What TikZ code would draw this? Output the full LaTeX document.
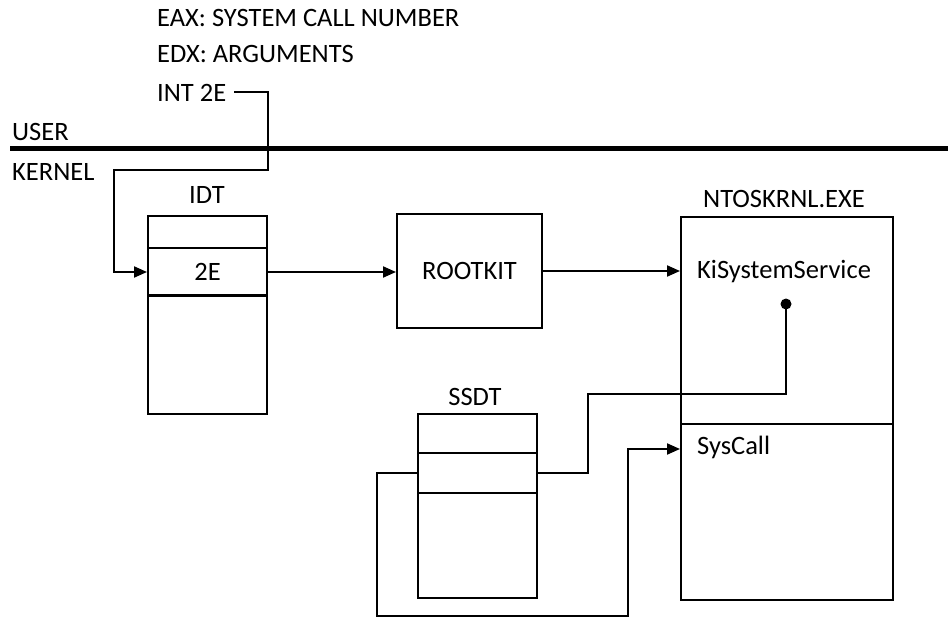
\documentclass[tikz,border=0pt]{standalone}
\usepackage{fontspec}
\setmainfont{Carlito}
\usetikzlibrary{arrows.meta}
\begin{document}
\begin{tikzpicture}[x=1pt,y=-1pt,
  every node/.style={font=\fontsize{26.5}{30}\selectfont, inner sep=0pt},
  box/.style={draw, line width=2pt, rectangle, anchor=north west},
  txt/.style={anchor=west},
  conn/.style={line width=2pt},
  arr/.style={line width=2pt, -{Triangle[length=13pt,width=11pt]}}]
\useasboundingbox (0,0) rectangle (948,626);
% header texts
\node[txt] (eax) at (157,18) {EAX: SYSTEM CALL NUMBER};
\node[txt] (edx) at (157,54) {EDX: ARGUMENTS};
\node[txt] (int) at (157,93) {INT 2E};
\node[txt] (user) at (12,132) {USER};
\node[txt] (kernel) at (12,172) {KERNEL};
\coordinate (divL) at (10,148);
\coordinate (divR) at (948,148);
\draw[line width=5pt] (divL) -- (divR);
% IDT
\node (idtlab) at (207,195) {IDT};
\node[box, minimum width=119pt, minimum height=32pt] (idt1) at (147,215) {};
\node[box, minimum width=119pt, minimum height=48pt] (idt2e) at (147,247) {2E};
\node[box, minimum width=119pt, minimum height=118pt] (idt3) at (147,295) {};
\draw[line width=3pt] (idt3.north west) -- (idt3.north east);
% ROOTKIT
\node[box, minimum width=145pt, minimum height=114pt] (rootkit) at (396,213) {ROOTKIT};
% NTOSKRNL
\node (ntoslab) at (784,199) {NTOSKRNL.EXE};
\node[box, minimum width=212pt, minimum height=207pt] (ntostop) at (680,216) {};
\node[box, minimum width=212pt, minimum height=176pt] (ntosbot) at (680,423) {};
\node[txt] (kiss) at (697,272) {KiSystemService};
\node[txt] (sysc) at (697,447) {SysCall};
% SSDT
\node (ssdtlab) at (475,397) {SSDT};
\node[box, minimum width=119pt, minimum height=39pt] (ssdt1) at (417,413) {};
\node[box, minimum width=119pt, minimum height=40pt] (ssdt2) at (417,452) {};
\node[box, minimum width=119pt, minimum height=105pt] (ssdt3) at (417,492) {};
% connectors
\coordinate (k1) at (268,170);
\coordinate (k2) at (114,170);
\draw[arr] ([xshift=8pt,yshift=1pt]int.east) -| (k1) -- (k2) |- (idt2e.west);
\draw[arr] (idt2e.east) -- (idt2e.east -| rootkit.west);
\draw[arr] (rootkit.east) -- (rootkit.east -| ntostop.west);
\coordinate (dot) at (786,304);
\coordinate (j1) at (588,394);
\draw[conn] (ssdt2.east) -| (j1) -| (dot);
\fill (dot) circle (5.5pt);
\coordinate (j2) at (377,616);
\coordinate (j3) at (628,449);
\draw[arr] (ssdt2.west) -| (j2) -| (j3) -- (j3 -| ntosbot.west);
\end{tikzpicture}
\end{document}
